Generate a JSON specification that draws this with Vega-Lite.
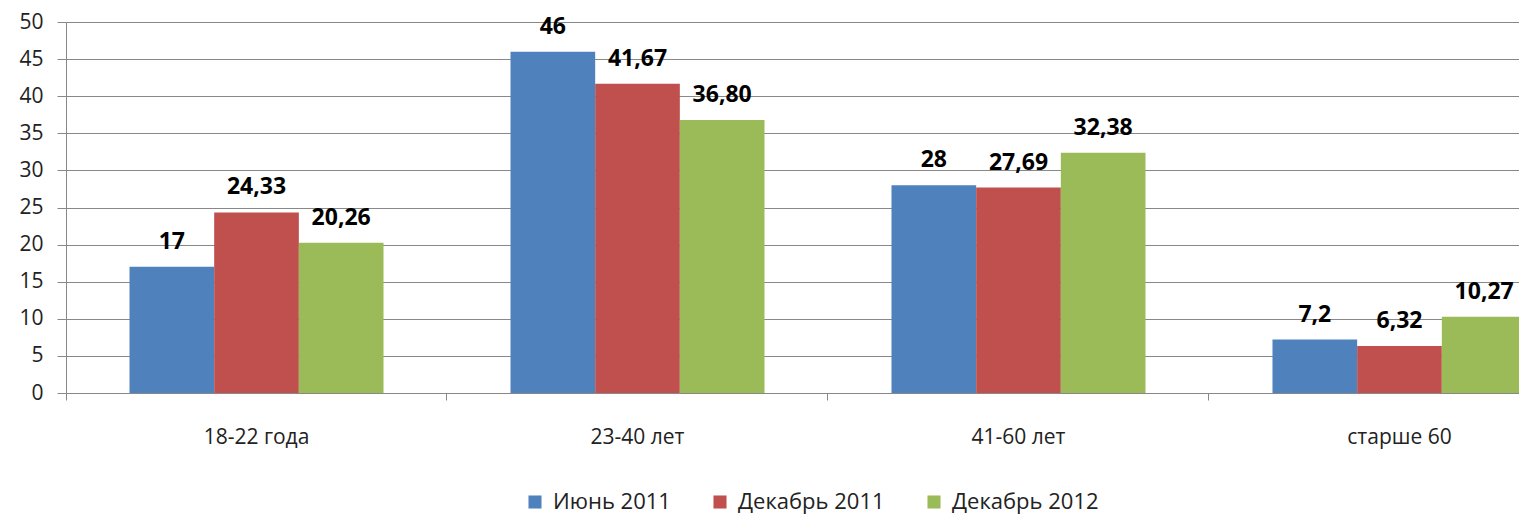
{
  "$schema": "https://vega.github.io/schema/vega-lite/v6.json",
  "width": 1453,
  "height": 371,
  "autosize": {"type": "none"},
  "padding": {"left": 66, "top": 22, "right": 0, "bottom": 122},
  "background": "white",
  "config": {
    "font": "Open Sans",
    "view": {"stroke": null}
  },
  "data": {
    "values": [
      {"group": "18-22 года", "series": "Июнь 2011", "value": 17, "label": "17"},
      {"group": "18-22 года", "series": "Декабрь 2011", "value": 24.33, "label": "24,33"},
      {"group": "18-22 года", "series": "Декабрь 2012", "value": 20.26, "label": "20,26"},
      {"group": "23-40 лет", "series": "Июнь 2011", "value": 46, "label": "46"},
      {"group": "23-40 лет", "series": "Декабрь 2011", "value": 41.67, "label": "41,67"},
      {"group": "23-40 лет", "series": "Декабрь 2012", "value": 36.8, "label": "36,80"},
      {"group": "41-60 лет", "series": "Июнь 2011", "value": 28, "label": "28"},
      {"group": "41-60 лет", "series": "Декабрь 2011", "value": 27.69, "label": "27,69"},
      {"group": "41-60 лет", "series": "Декабрь 2012", "value": 32.38, "label": "32,38"},
      {"group": "старше 60", "series": "Июнь 2011", "value": 7.2, "label": "7,2"},
      {"group": "старше 60", "series": "Декабрь 2011", "value": 6.32, "label": "6,32"},
      {"group": "старше 60", "series": "Декабрь 2012", "value": 10.27, "label": "10,27"}
    ]
  },
  "encoding": {
    "x": {
      "field": "group",
      "type": "nominal",
      "sort": null,
      "scale": {"range": [0, 1524], "paddingInner": 0.3333, "paddingOuter": 0.1667},
      "axis": {
        "title": null,
        "labelAngle": 0,
        "labelFontSize": 21,
        "labelColor": "#222",
        "labelPadding": 26,
        "domain": false,
        "bandPosition": -0.25,
        "tickColor": "#888",
        "tickSize": 7,
        "grid": false
      }
    },
    "xOffset": {
      "field": "series",
      "type": "nominal",
      "sort": ["Июнь 2011", "Декабрь 2011", "Декабрь 2012"]
    },
    "y": {
      "field": "value",
      "type": "quantitative",
      "scale": {"domain": [0, 50], "nice": false},
      "axis": {
        "title": null,
        "values": [0, 5, 10, 15, 20, 25, 30, 35, 40, 45, 50],
        "labelFontSize": 21,
        "labelColor": "#222",
        "labelPadding": 14,
        "tickSize": 9,
        "tickColor": "#888",
        "domainColor": "#888",
        "gridColor": "#888",
        "gridWidth": 1
      }
    }
  },
  "layer": [
    {
      "mark": {"type": "bar", "clip": true},
      "encoding": {
        "color": {
          "field": "series",
          "type": "nominal",
          "sort": ["Июнь 2011", "Декабрь 2011", "Декабрь 2012"],
          "scale": {"range": ["#4F81BD", "#C0504D", "#9BBB59"]},
          "legend": {
            "title": null,
            "orient": "none",
            "legendX": 458,
            "legendY": 469,
            "direction": "horizontal",
            "symbolType": "square",
            "symbolSize": 170,
            "symbolStrokeWidth": 0,
            "labelFontSize": 22,
            "labelColor": "#222",
            "columnPadding": 38,
            "labelOffset": 7
          }
        }
      }
    },
    {
      "mark": {"type": "text", "baseline": "alphabetic", "dy": -18, "fontSize": 23, "fontWeight": "bold", "color": "#000"},
      "encoding": {"text": {"field": "label"}}
    }
  ]
}
